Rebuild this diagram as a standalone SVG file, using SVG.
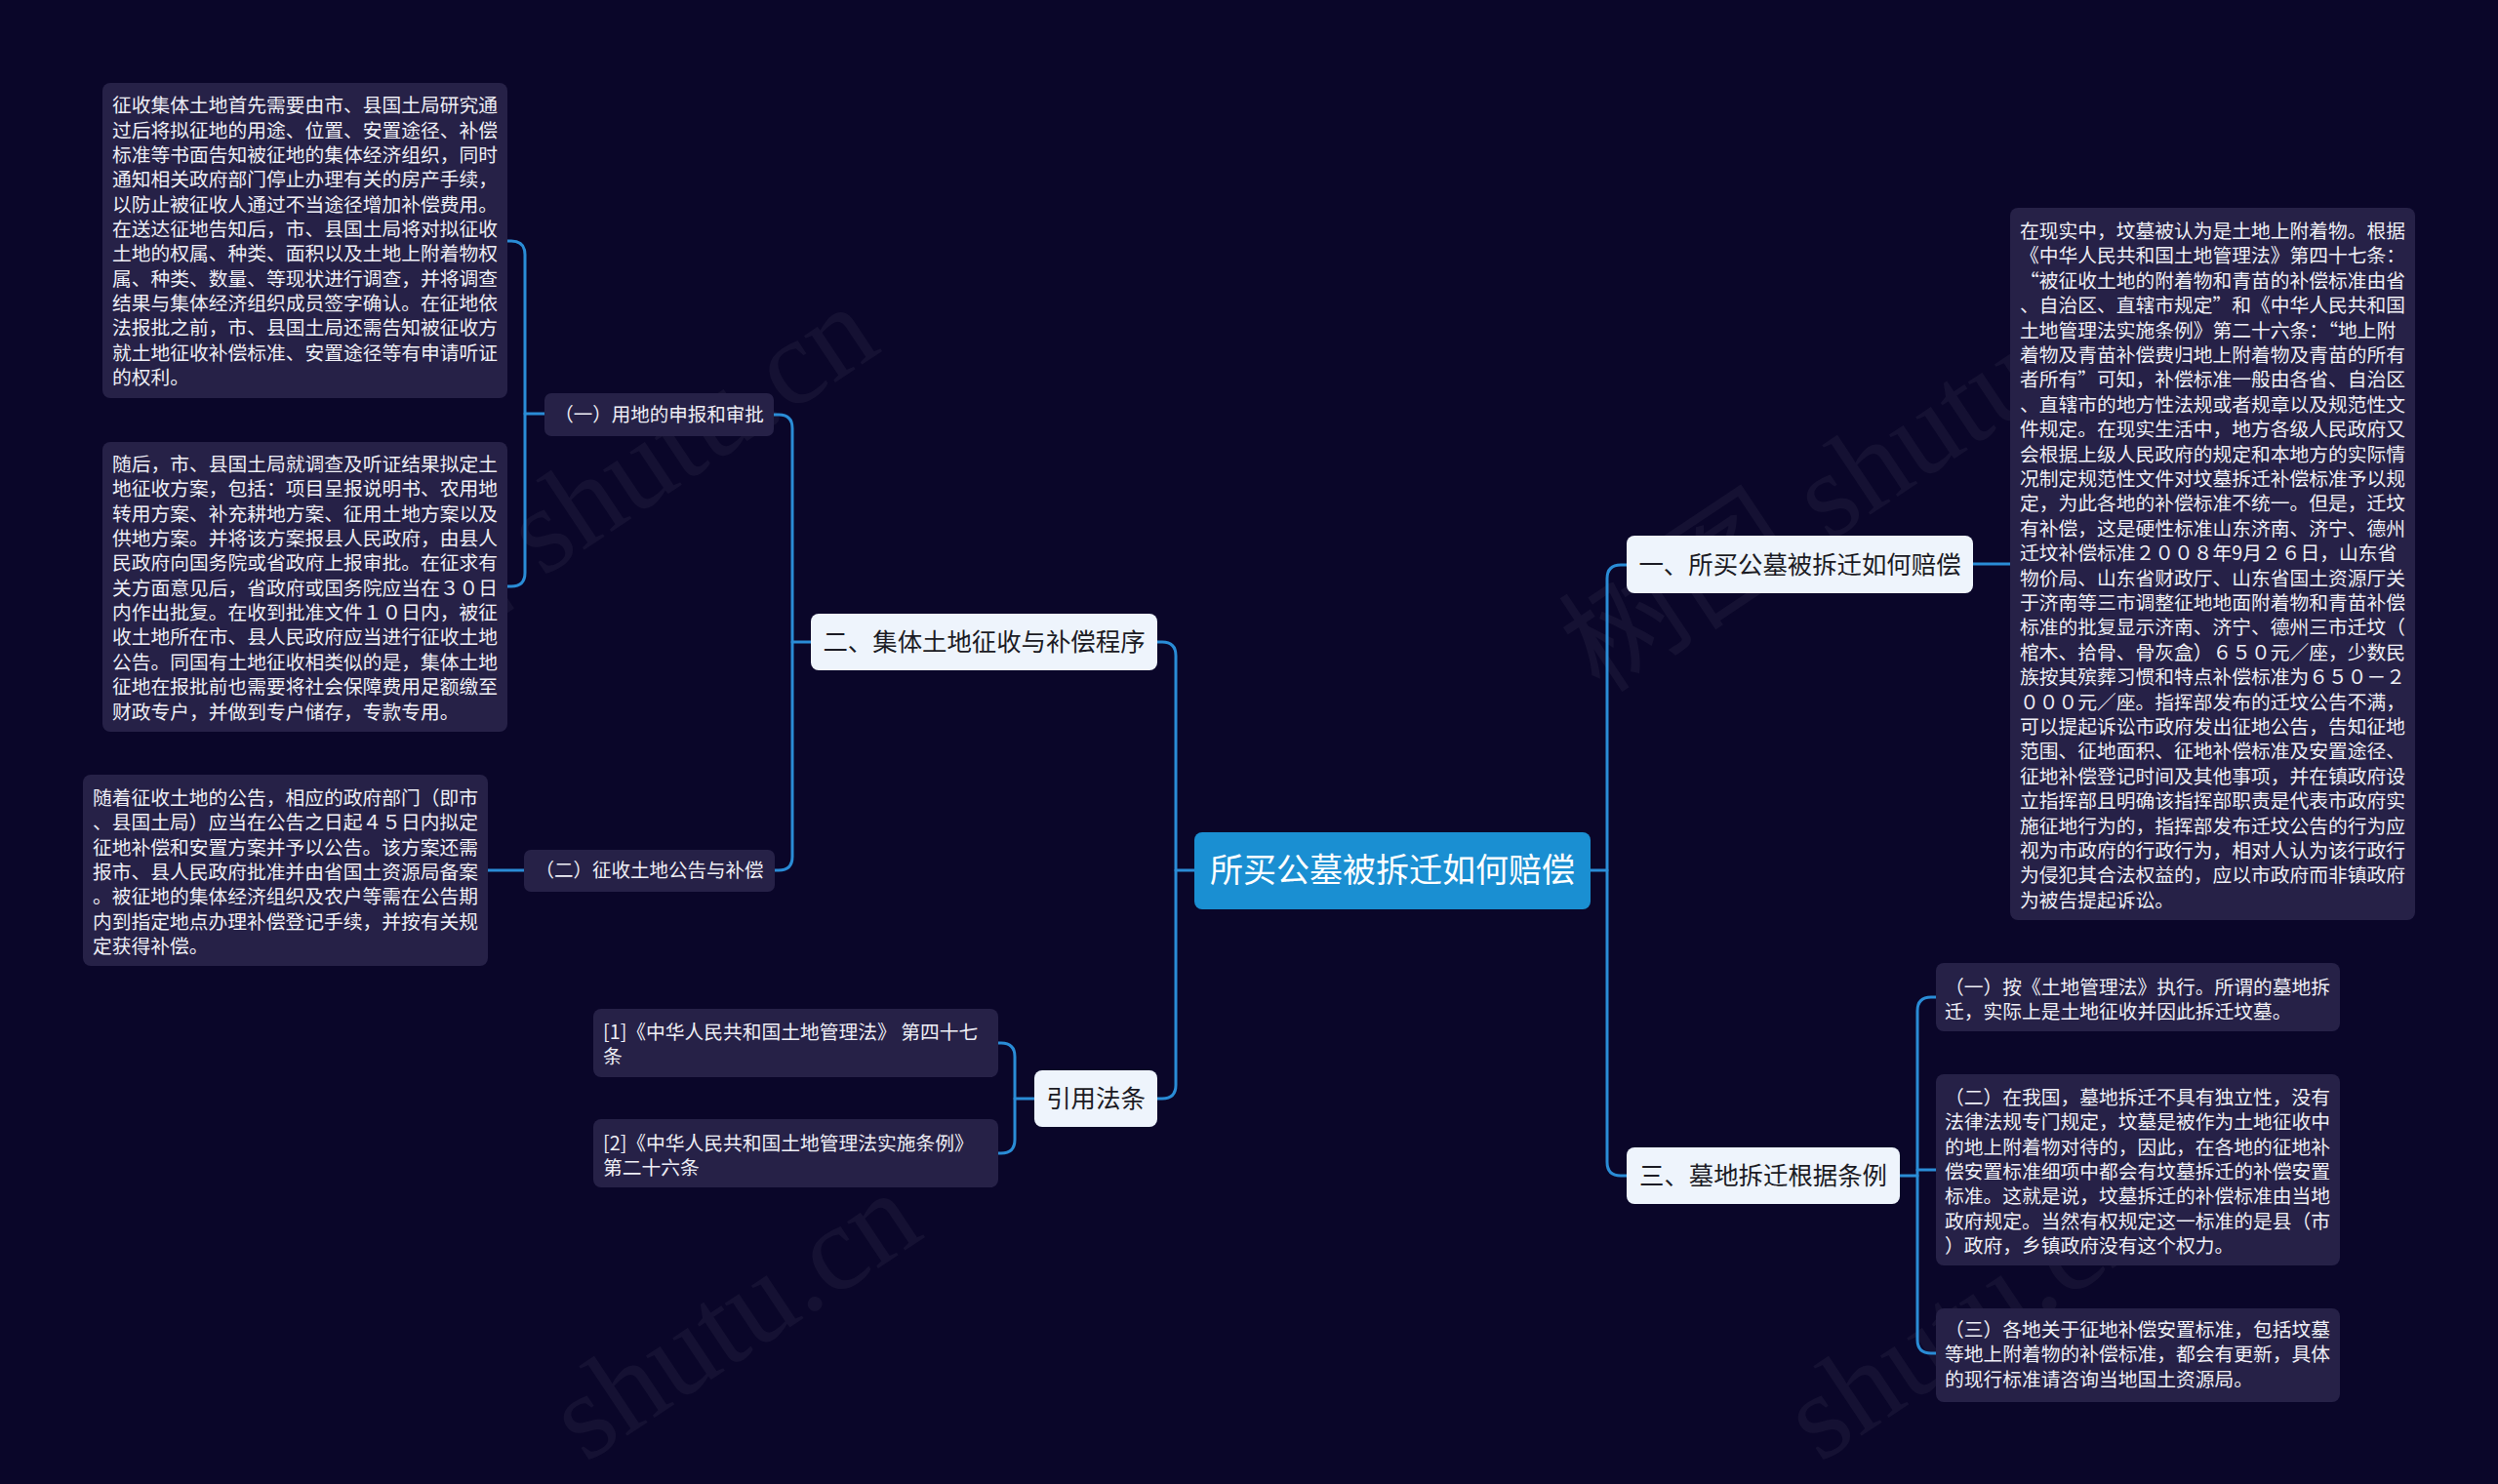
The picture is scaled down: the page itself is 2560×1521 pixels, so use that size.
<svg xmlns="http://www.w3.org/2000/svg" width="2560" height="1521" viewBox="0 0 2560 1521">
<style>
.bg{fill:#0a0629}
.wm{font-family:"Liberation Serif","Noto Sans CJK SC",serif;font-size:125px;fill:#ffffff;opacity:0.045}
.con{fill:none;stroke:#2a8cd6;stroke-width:3;stroke-linecap:round}
.leaf{fill:#262147}
.branch{fill:#eef4fc}
.root{fill:#1a8fd2}
.t{font-family:"Noto Sans CJK SC","Noto Sans CJK JP",sans-serif}
.p{font-size:19.75px;fill:#eeeef5}
.sub{font-size:19.5px;fill:#eeeef5}
.b{font-size:25.4px;fill:#1b1b24}
.r{font-size:34px;fill:#ffffff}
</style>
<rect class="bg" x="0" y="0" width="2560" height="1521"/>
<g id="watermarks">
<text class="wm" transform="translate(322,748) rotate(-33.7)">树图 shutu.cn</text>
<text class="wm" transform="translate(1640,712) rotate(-33.7)">树图 shutu.cn</text>
<text class="wm" transform="translate(600,1500) rotate(-33.7)">shutu.cn</text>
<text class="wm" transform="translate(1865,1500) rotate(-33.7)">shutu.cn</text>
</g>
<g id="connectors">
<path class="con" d="M1630,892 H1647"/>
<path class="con" d="M1667,579 H1661 Q1647,579 1647,593 V1191 Q1647,1205 1661,1205 H1667"/>
<path class="con" d="M2022,578 H2060"/>
<path class="con" d="M1947,1205 H1965"/>
<path class="con" d="M1984,1022 H1979 Q1965,1022 1965,1036 V1373 Q1965,1387 1979,1387 H1984"/>
<path class="con" d="M1965,1199 H1984"/>
<path class="con" d="M1224,892 H1205"/>
<path class="con" d="M1186,658 H1191 Q1205,658 1205,672 V1112 Q1205,1126 1191,1126 H1186"/>
<path class="con" d="M831,658 H812"/>
<path class="con" d="M793,425 H798 Q812,425 812,439 V878 Q812,892 798,892 H794"/>
<path class="con" d="M558,424 H538"/>
<path class="con" d="M520,247 H524 Q538,247 538,261 V587 Q538,601 524,601 H520"/>
<path class="con" d="M537,892 H500"/>
<path class="con" d="M1060,1126 H1040"/>
<path class="con" d="M1023,1069 H1026 Q1040,1069 1040,1083 V1168 Q1040,1182 1026,1182 H1023"/>
</g>
<g id="root">
<rect class="root" x="1224" y="853" width="406" height="79" rx="8"/>
<text class="t r" x="1427" y="904" text-anchor="middle">所买公墓被拆迁如何赔偿</text>
</g>
<g id="branch1">
<rect class="branch" x="1667" y="549" width="355" height="59" rx="8"/>
<text class="t b" x="1844.5" y="588" text-anchor="middle">一、所买公墓被拆迁如何赔偿</text>
</g>
<g id="branch2">
<rect class="branch" x="831" y="629" width="355" height="58" rx="8"/>
<text class="t b" x="1008.5" y="667" text-anchor="middle">二、集体土地征收与补偿程序</text>
</g>
<g id="branch3">
<rect class="branch" x="1667" y="1176" width="280" height="58" rx="8"/>
<text class="t b" x="1807" y="1214" text-anchor="middle">三、墓地拆迁根据条例</text>
</g>
<g id="branch4">
<rect class="branch" x="1060" y="1097" width="126" height="58" rx="8"/>
<text class="t b" x="1123" y="1135" text-anchor="middle">引用法条</text>
</g>
<g id="sub1">
<rect class="leaf" x="558" y="403" width="235" height="44" rx="7"/>
<text class="t sub" x="675.5" y="432" text-anchor="middle">（一）用地的申报和审批</text>
</g>
<g id="sub2">
<rect class="leaf" x="537" y="871" width="257" height="43" rx="7"/>
<text class="t sub" x="665.5" y="899" text-anchor="middle">（二）征收土地公告与补偿</text>
</g>
<g id="leaf-l1">
<rect class="leaf" x="105" y="85" width="415" height="323" rx="8"/>
<text class="t p" x="115" y="115.3"><tspan x="115">征收集体土地首先需要由市、县国土局研究通</tspan><tspan x="115" dy="25.35">过后将拟征地的用途、位置、安置途径、补偿</tspan><tspan x="115" dy="25.35">标准等书面告知被征地的集体经济组织，同时</tspan><tspan x="115" dy="25.35">通知相关政府部门停止办理有关的房产手续，</tspan><tspan x="115" dy="25.35">以防止被征收人通过不当途径增加补偿费用。</tspan><tspan x="115" dy="25.35">在送达征地告知后，市、县国土局将对拟征收</tspan><tspan x="115" dy="25.35">土地的权属、种类、面积以及土地上附着物权</tspan><tspan x="115" dy="25.35">属、种类、数量、等现状进行调查，并将调查</tspan><tspan x="115" dy="25.35">结果与集体经济组织成员签字确认。在征地依</tspan><tspan x="115" dy="25.35">法报批之前，市、县国土局还需告知被征收方</tspan><tspan x="115" dy="25.35">就土地征收补偿标准、安置途径等有申请听证</tspan><tspan x="115" dy="25.35">的权利。</tspan></text>
</g>
<g id="leaf-l2">
<rect class="leaf" x="105" y="453" width="415" height="297" rx="8"/>
<text class="t p" x="115" y="483"><tspan x="115">随后，市、县国土局就调查及听证结果拟定土</tspan><tspan x="115" dy="25.35">地征收方案，包括：项目呈报说明书、农用地</tspan><tspan x="115" dy="25.35">转用方案、补充耕地方案、征用土地方案以及</tspan><tspan x="115" dy="25.35">供地方案。并将该方案报县人民政府，由县人</tspan><tspan x="115" dy="25.35">民政府向国务院或省政府上报审批。在征求有</tspan><tspan x="115" dy="25.35">关方面意见后，省政府或国务院应当在３０日</tspan><tspan x="115" dy="25.35">内作出批复。在收到批准文件１０日内，被征</tspan><tspan x="115" dy="25.35">收土地所在市、县人民政府应当进行征收土地</tspan><tspan x="115" dy="25.35">公告。同国有土地征收相类似的是，集体土地</tspan><tspan x="115" dy="25.35">征地在报批前也需要将社会保障费用足额缴至</tspan><tspan x="115" dy="25.35">财政专户，并做到专户储存，专款专用。</tspan></text>
</g>
<g id="leaf-l3">
<rect class="leaf" x="85" y="794" width="415" height="196" rx="8"/>
<text class="t p" x="95" y="825"><tspan x="95">随着征收土地的公告，相应的政府部门（即市</tspan><tspan x="95" dy="25.35">、县国土局）应当在公告之日起４５日内拟定</tspan><tspan x="95" dy="25.35">征地补偿和安置方案并予以公告。该方案还需</tspan><tspan x="95" dy="25.35">报市、县人民政府批准并由省国土资源局备案</tspan><tspan x="95" dy="25.35">。被征地的集体经济组织及农户等需在公告期</tspan><tspan x="95" dy="25.35">内到指定地点办理补偿登记手续，并按有关规</tspan><tspan x="95" dy="25.35">定获得补偿。</tspan></text>
</g>
<g id="cite1">
<rect class="leaf" x="608" y="1034" width="415" height="70" rx="8"/>
<text class="t p" x="618" y="1065"><tspan x="618">[1]《中华人民共和国土地管理法》 第四十七</tspan><tspan x="618" dy="25">条</tspan></text>
</g>
<g id="cite2">
<rect class="leaf" x="608" y="1147" width="415" height="70" rx="8"/>
<text class="t p" x="618" y="1179"><tspan x="618">[2]《中华人民共和国土地管理法实施条例》</tspan><tspan x="618" dy="25">第二十六条</tspan></text>
</g>
<g id="leaf-r1">
<rect class="leaf" x="2060" y="213" width="415" height="730" rx="8"/>
<text class="t p" x="2070" y="244"><tspan x="2070">在现实中，坟墓被认为是土地上附着物。根据</tspan><tspan x="2070" dy="25.4">《中华人民共和国土地管理法》第四十七条：</tspan><tspan x="2070" dy="25.4">“被征收土地的附着物和青苗的补偿标准由省</tspan><tspan x="2070" dy="25.4">、自治区、直辖市规定”和《中华人民共和国</tspan><tspan x="2070" dy="25.4">土地管理法实施条例》第二十六条：“地上附</tspan><tspan x="2070" dy="25.4">着物及青苗补偿费归地上附着物及青苗的所有</tspan><tspan x="2070" dy="25.4">者所有”可知，补偿标准一般由各省、自治区</tspan><tspan x="2070" dy="25.4">、直辖市的地方性法规或者规章以及规范性文</tspan><tspan x="2070" dy="25.4">件规定。在现实生活中，地方各级人民政府又</tspan><tspan x="2070" dy="25.4">会根据上级人民政府的规定和本地方的实际情</tspan><tspan x="2070" dy="25.4">况制定规范性文件对坟墓拆迁补偿标准予以规</tspan><tspan x="2070" dy="25.4">定，为此各地的补偿标准不统一。但是，迁坟</tspan><tspan x="2070" dy="25.4">有补偿，这是硬性标准山东济南、济宁、德州</tspan><tspan x="2070" dy="25.4">迁坟补偿标准２００８年9月２６日，山东省</tspan><tspan x="2070" dy="25.4">物价局、山东省财政厅、山东省国土资源厅关</tspan><tspan x="2070" dy="25.4">于济南等三市调整征地地面附着物和青苗补偿</tspan><tspan x="2070" dy="25.4">标准的批复显示济南、济宁、德州三市迁坟（</tspan><tspan x="2070" dy="25.4">棺木、拾骨、骨灰盒）６５０元／座，少数民</tspan><tspan x="2070" dy="25.4">族按其殡葬习惯和特点补偿标准为６５０－２</tspan><tspan x="2070" dy="25.4">０００元／座。指挥部发布的迁坟公告不满，</tspan><tspan x="2070" dy="25.4">可以提起诉讼市政府发出征地公告，告知征地</tspan><tspan x="2070" dy="25.4">范围、征地面积、征地补偿标准及安置途径、</tspan><tspan x="2070" dy="25.4">征地补偿登记时间及其他事项，并在镇政府设</tspan><tspan x="2070" dy="25.4">立指挥部且明确该指挥部职责是代表市政府实</tspan><tspan x="2070" dy="25.4">施征地行为的，指挥部发布迁坟公告的行为应</tspan><tspan x="2070" dy="25.4">视为市政府的行政行为，相对人认为该行政行</tspan><tspan x="2070" dy="25.4">为侵犯其合法权益的，应以市政府而非镇政府</tspan><tspan x="2070" dy="25.4">为被告提起诉讼。</tspan></text>
</g>
<g id="leaf-r2">
<rect class="leaf" x="1984" y="987" width="414" height="70" rx="8"/>
<text class="t p" x="1993" y="1019"><tspan x="1993">（一）按《土地管理法》执行。所谓的墓地拆</tspan><tspan x="1993" dy="25.35">迁，实际上是土地征收并因此拆迁坟墓。</tspan></text>
</g>
<g id="leaf-r3">
<rect class="leaf" x="1984" y="1101" width="414" height="196" rx="8"/>
<text class="t p" x="1993" y="1132"><tspan x="1993">（二）在我国，墓地拆迁不具有独立性，没有</tspan><tspan x="1993" dy="25.35">法律法规专门规定，坟墓是被作为土地征收中</tspan><tspan x="1993" dy="25.35">的地上附着物对待的，因此，在各地的征地补</tspan><tspan x="1993" dy="25.35">偿安置标准细项中都会有坟墓拆迁的补偿安置</tspan><tspan x="1993" dy="25.35">标准。这就是说，坟墓拆迁的补偿标准由当地</tspan><tspan x="1993" dy="25.35">政府规定。当然有权规定这一标准的是县（市</tspan><tspan x="1993" dy="25.35">）政府，乡镇政府没有这个权力。</tspan></text>
</g>
<g id="leaf-r4">
<rect class="leaf" x="1984" y="1341" width="414" height="96" rx="8"/>
<text class="t p" x="1993" y="1370"><tspan x="1993">（三）各地关于征地补偿安置标准，包括坟墓</tspan><tspan x="1993" dy="25.35">等地上附着物的补偿标准，都会有更新，具体</tspan><tspan x="1993" dy="25.35">的现行标准请咨询当地国土资源局。</tspan></text>
</g>
</svg>
